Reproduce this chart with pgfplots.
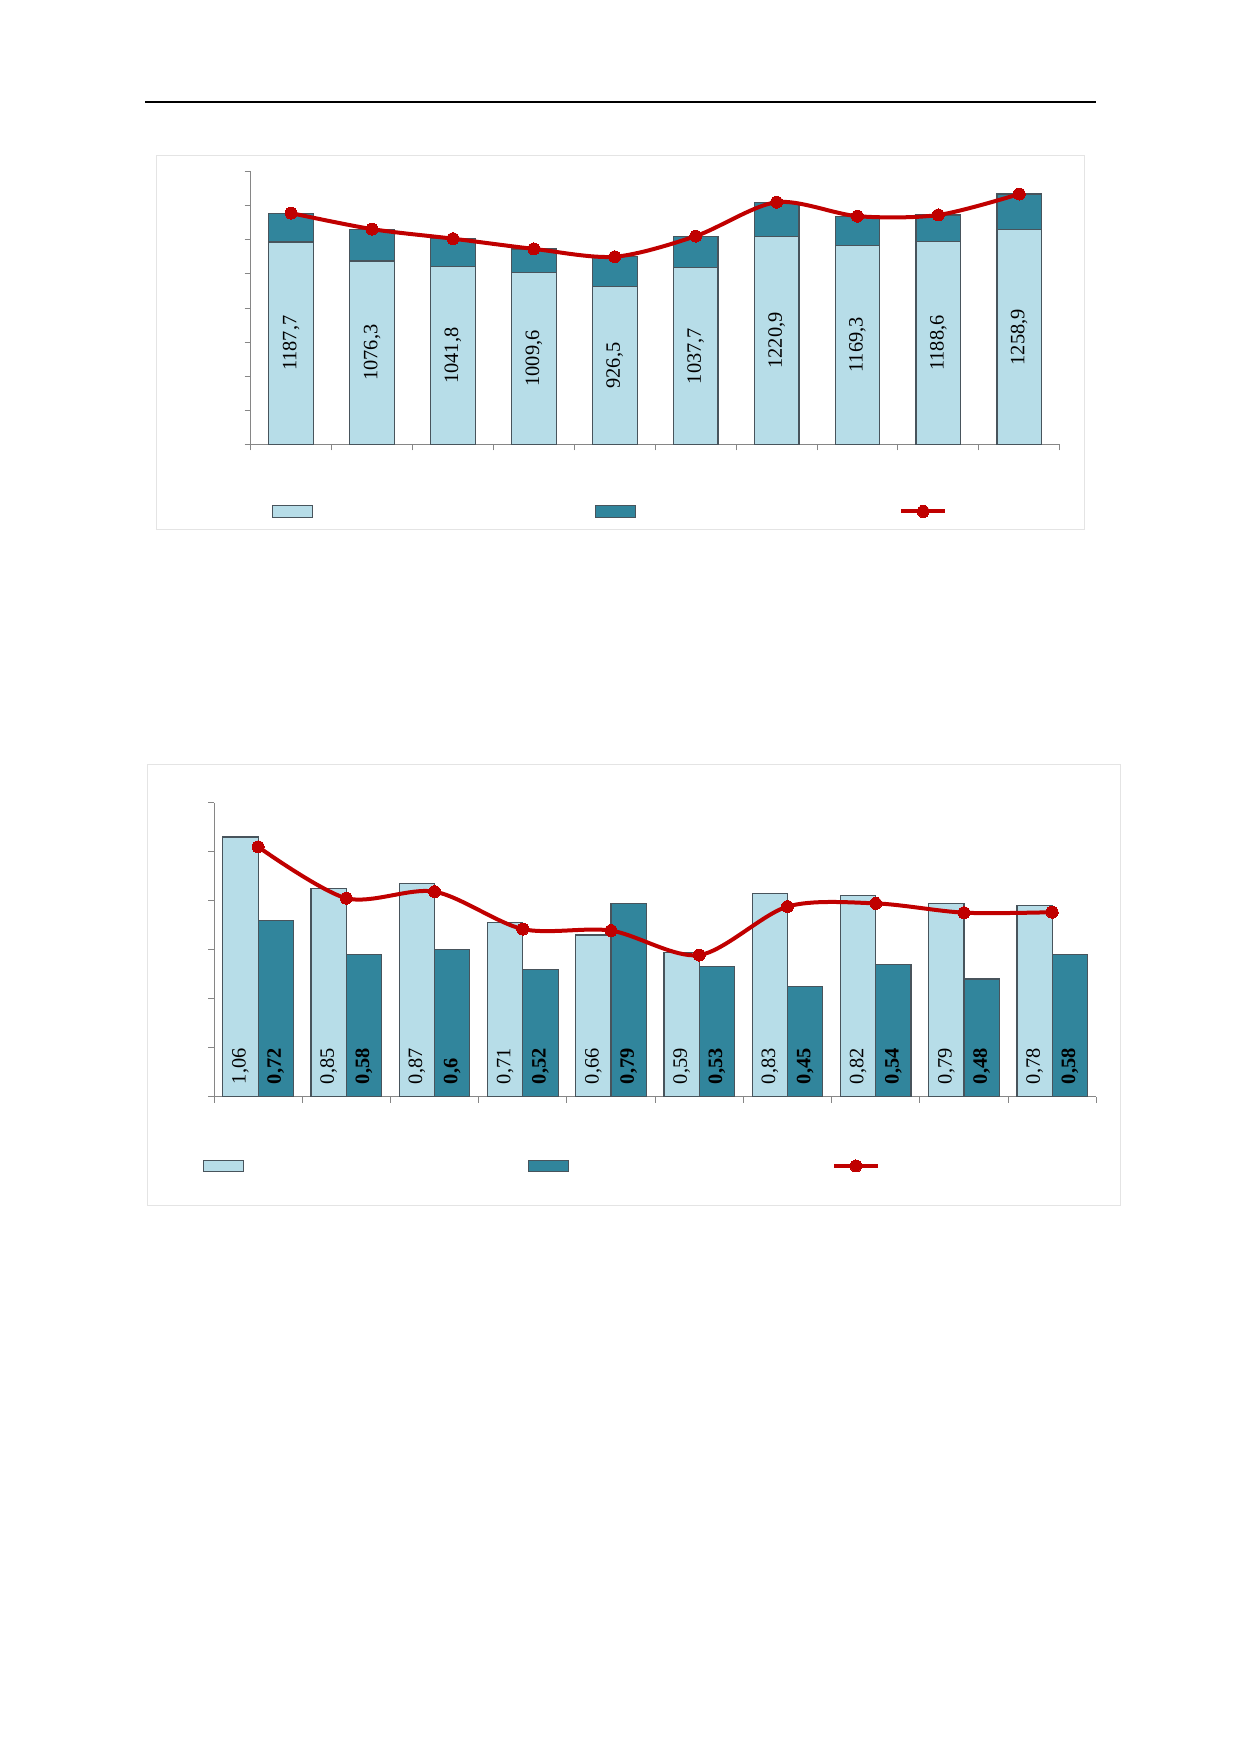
\documentclass[border=0pt]{standalone}
\usepackage{fontspec}
\setmainfont{Liberation Serif}
\usepackage{pgfplots}
\usepackage{pgfplotstable}
\pgfplotsset{compat=1.18}
\definecolor{lightb}{RGB}{183,221,232}
\definecolor{darkb}{RGB}{49,133,156}
\definecolor{lred}{RGB}{192,0,0}
\definecolor{bordc}{RGB}{72,84,92}
\definecolor{axgray}{RGB}{134,134,134}
\definecolor{framecol}{RGB}{228,228,228}
\newcommand{\lbl}{\fontsize{10.2pt}{11.5pt}\selectfont}

\pgfplotstableread{
x light tot lab
1 1187.7 1357 1187,7
2 1076.3 1263 1076,3
3 1041.8 1207 1041,8
4 1009.6 1147 1009,6
5 926.5 1101 926,5
6 1037.7 1222 1037,7
7 1220.9 1421 1220,9
8 1169.3 1339 1169,3
9 1188.6 1346 1188,6
10 1258.9 1469 1258,9
}\tabA

\pgfplotstableread{
x l d ln ll dl
1 1.06 0.72 1.020 1,06 0,72
2 0.85 0.58 0.810 0,85 0,58
3 0.87 0.60 0.837 0,87 0,6
4 0.71 0.52 0.684 0,71 0,52
5 0.66 0.79 0.678 0,66 0,79
6 0.59 0.53 0.578 0,59 0,53
7 0.83 0.45 0.776 0,83 0,45
8 0.82 0.54 0.789 0,82 0,54
9 0.79 0.48 0.751 0,79 0,48
10 0.78 0.58 0.753 0,78 0,58
}\tabB

\pgfplotsset{
  myax/.style={
    scale only axis,
    axis x line*=bottom, axis y line*=left,
    axis line style={draw=axgray, line width=0.5pt},
    major tick style={draw=axgray, line width=0.5pt},
    tick align=outside, major tick length=3pt,
    xticklabels={}, yticklabels={},
    xmin=0.5, xmax=10.5, xtick={0.5,1.5,...,10.5},
    clip=false,
    legend columns=3,
    legend style={draw=none, fill=none, inner sep=0pt, outer sep=0pt,
      nodes={inner sep=0pt, outer sep=0pt, text depth=0pt},
      column sep=0pt, cells={anchor=west}, anchor=west},
  },
  barleg/.style={legend image code/.code={\draw[##1] (0pt,-2.9pt) rectangle (20pt,2.9pt);}},
  lineleg/.style={legend image code/.code={\draw[##1, mark repeat=2, mark phase=2] plot coordinates {(0pt,0pt) (10.9pt,0pt) (21.8pt,0pt)};}},
  redline/.style={color=lred, line width=2pt, smooth, mark=*, mark size=3pt, mark options={fill=lred, draw=lred, line width=0pt}},
}

\begin{document}
\begin{tikzpicture}
\path (0pt,0pt) rectangle (620pt,877pt);
\draw[line width=1.15pt] (72.5pt,826pt) -- (548pt,826pt);
\draw[framecol, line width=0.5pt] (78pt,612pt) rectangle (542.15pt,799.15pt);
\draw[framecol, line width=0.5pt] (73.65pt,274.35pt) rectangle (560.35pt,494.5pt);

% Chart 1
\begin{axis}[myax, at={(125.35pt,654.75pt)}, anchor=south west,
  width=404.5pt, height=136.4pt, ymin=0, ymax=1600, ytick={0,200,...,1600},
  legend style={at={(0.0263,-0.2456)}}]
\addlegendimage{barleg, draw=bordc, fill=lightb, line width=0.6pt}
\addlegendentry{\hspace*{141pt}}
\addlegendimage{barleg, draw=bordc, fill=darkb, line width=0.6pt}
\addlegendentry{\hspace*{131.5pt}}
\addlegendimage{lineleg, redline}
\addlegendentry{}
\addplot[ybar, bar width=22.35pt, bar shift=0pt, fill=darkb, draw=bordc, line width=0.6pt, forget plot] table[x=x, y=tot] {\tabA};
\addplot[ybar, bar width=22.35pt, bar shift=0pt, fill=lightb, draw=bordc, line width=0.6pt, forget plot] table[x=x, y=light] {\tabA};
\addplot[draw=none, mark=none, forget plot, nodes near coords, point meta=explicit symbolic,
  nodes near coords style={rotate=90, anchor=center, inner sep=0pt, font=\lbl}]
  table[x=x, y expr=\thisrow{light}/2, meta=lab] {\tabA};
\addplot[redline, forget plot] table[x=x, y=tot] {\tabA};
\end{axis}

% Chart 2
\begin{axis}[myax, at={(107pt,328.65pt)}, anchor=south west,
  width=441.15pt, height=147pt, ymin=0, ymax=1.2, ytick={0,0.2,0.4,0.6,0.8,1,1.2},
  legend style={at={(-0.0128,-0.2357)}}]
\addlegendimage{barleg, draw=bordc, fill=lightb, line width=0.6pt}
\addlegendentry{\hspace*{141.8pt}}
\addlegendimage{barleg, draw=bordc, fill=darkb, line width=0.6pt}
\addlegendentry{\hspace*{131.7pt}}
\addlegendimage{lineleg, redline}
\addlegendentry{}
\addplot[ybar, bar width=17.65pt, bar shift=-8.825pt, fill=lightb, draw=bordc, line width=0.6pt, forget plot] table[x=x, y=l] {\tabB};
\addplot[ybar, bar width=17.65pt, bar shift=8.825pt, fill=darkb, draw=bordc, line width=0.6pt, forget plot] table[x=x, y=d] {\tabB};
\addplot[draw=none, mark=none, forget plot, nodes near coords, point meta=explicit symbolic,
  nodes near coords style={rotate=90, anchor=west, inner sep=0pt, font=\lbl}]
  table[x expr=\thisrow{x}-0.2, y expr=0.05, meta=ll] {\tabB};
\addplot[draw=none, mark=none, forget plot, nodes near coords, point meta=explicit symbolic,
  nodes near coords style={rotate=90, anchor=west, inner sep=0pt, font=\lbl\bfseries}]
  table[x expr=\thisrow{x}+0.2, y expr=0.05, meta=dl] {\tabB};
\addplot[redline, forget plot] table[x=x, y=ln] {\tabB};
\end{axis}
\end{tikzpicture}
\end{document}
